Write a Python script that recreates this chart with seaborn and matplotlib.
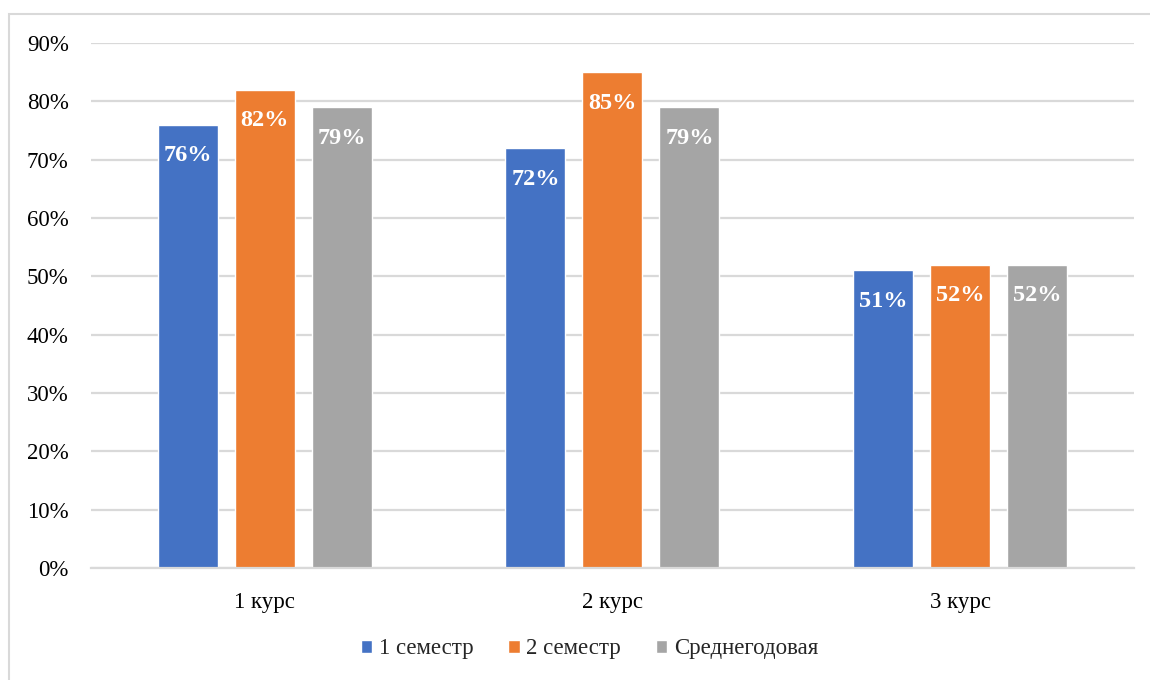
import pandas as pd
import matplotlib
matplotlib.use('Agg')
import matplotlib.pyplot as plt
import seaborn as sns
from matplotlib.patches import Rectangle
from matplotlib.ticker import PercentFormatter

# data
courses = ['1 курс', '2 курс', '3 курс']
semester_1 = [76, 72, 51]
semester_2 = [82, 85, 52]
year_avg = [79, 79, 52]
series_names = ['1 семестр', '2 семестр', 'Среднегодовая']
colors = ['#4472C4', '#ED7D31', '#A5A5A5']

df = pd.DataFrame({
    'Курс': courses * 3,
    'Серия': [series_names[0]] * 3 + [series_names[1]] * 3 + [series_names[2]] * 3,
    'Значение': semester_1 + semester_2 + year_avg,
})

sns.set_theme(style='white')
plt.rcParams['font.family'] = ['Liberation Serif', 'DejaVu Serif']

fig = plt.figure(figsize=(11.5, 6.8), dpi=100)
ax = fig.add_axes([0.0791, 0.1647, 0.9069, 0.7721])

sns.barplot(data=df, x='Курс', y='Значение', hue='Серия', palette=colors,
            width=0.664, gap=0.22, saturation=1, ax=ax, legend=True)

ax.set_ylim(0, 90)
ax.set_xlim(-0.5, 2.5)
ax.set_yticks(range(0, 91, 10))
ax.yaxis.set_major_formatter(PercentFormatter(decimals=0))
ax.grid(axis='y', color='#d9d9d9', linewidth=1.6)
ax.set_axisbelow(True)
for s in ['top', 'right', 'left']:
    ax.spines[s].set_visible(False)
ax.spines['bottom'].set_color('#d9d9d9')
ax.spines['bottom'].set_linewidth(1.6)
ax.set_xlabel('')
ax.set_ylabel('')
ax.tick_params(axis='y', labelsize=16.5, colors='black', pad=16, length=0)
ax.tick_params(axis='x', labelsize=16.5, colors='black', pad=17, length=0)

for cont in ax.containers:
    ax.bar_label(cont, labels=[f'{v:.0f}%' for v in cont.datavalues],
                 padding=-30, color='white', fontsize=17.5, fontweight='bold')

handles, labels = ax.get_legend_handles_labels()
ax.legend(handles, labels, loc='center', bbox_to_anchor=(0.478, -0.154),
          ncol=3, frameon=False, fontsize=16.5, handlelength=0.5,
          handleheight=0.5, handletextpad=0.3, columnspacing=1.5)

# light frame like the Excel chart area
fig.patches.append(Rectangle((9 / 1150, -0.1), 1.2, 1 - 14 / 680 + 0.1,
                             transform=fig.transFigure, fill=False,
                             edgecolor='#d9d9d9', linewidth=1.5))

fig.savefig('out.png', dpi=100)
